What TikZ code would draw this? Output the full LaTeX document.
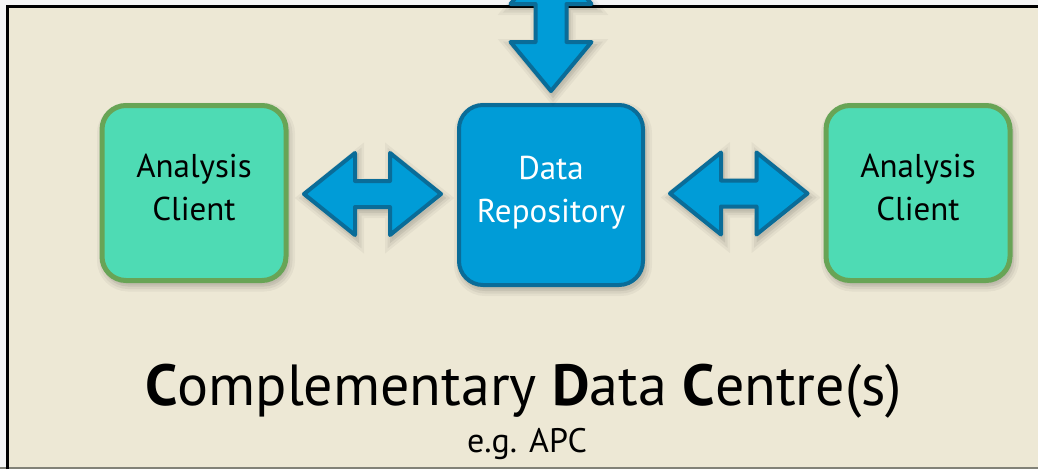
\documentclass[tikz,border=0pt]{standalone}
\usepackage{fontspec}
\setmainfont{PT Sans}
\usetikzlibrary{calc,shadows}

\definecolor{paper}{RGB}{237,232,213}
\definecolor{clientfill}{RGB}{78,219,180}
\definecolor{clientline}{RGB}{104,164,86}
\definecolor{repofill}{RGB}{0,156,215}
\definecolor{repoline}{RGB}{10,108,152}
\definecolor{edgegray}{RGB}{130,130,120}

\tikzset{
  % soft shadow built from a few stacked, widening strokes
  softshadow/.style={
    general shadow={shadow xshift=2pt, shadow yshift=-4pt, draw=black,
        fill=black, line width=14pt, draw opacity=0.04, fill opacity=0.04},
    general shadow={shadow xshift=2pt, shadow yshift=-4pt, draw=black,
        fill=none, line width=9pt, draw opacity=0.05},
    general shadow={shadow xshift=2pt, shadow yshift=-4pt, draw=black,
        fill=none, line width=4pt, draw opacity=0.07}},
  clientbox/.style={draw=clientline, line width=5pt, fill=clientfill,
      rounded corners=24pt, minimum width=184pt, minimum height=175pt,
      align=center, font=\fontsize{33}{43}\selectfont, text=black,
      text depth=12pt, softshadow},
  repobox/.style={draw=repoline, line width=4pt, fill=repofill,
      rounded corners=24pt, minimum width=184pt, minimum height=180pt,
      align=center, font=\fontsize{33}{43}\selectfont, text=white,
      text depth=12pt, softshadow},
  blockarrow/.style={draw=repoline, line width=4pt, fill=repofill,
      line join=round, softshadow},
}

% horizontal double block arrow between two tip points
\newcommand{\hblock}[2]{%
  \draw[blockarrow] let \p1=(#1), \p2=(#2) in
    (\x1,\y1) -- (\x1+51pt,\y1+41pt) -- (\x1+51pt,\y1+13pt)
    -- (\x2-51pt,\y2+13pt) -- (\x2-51pt,\y2+41pt) -- (\x2,\y2)
    -- (\x2-51pt,\y2-41pt) -- (\x2-51pt,\y2-13pt)
    -- (\x1+51pt,\y1-13pt) -- (\x1+51pt,\y1-41pt) -- cycle;}

\begin{document}
\begin{tikzpicture}[x=1pt,y=-1pt]
  \useasboundingbox (0,0) rectangle (1038,469);
  \begin{scope}
    \clip (0,0) rectangle (1038,469);
    % sheet and its frame
    \fill[white!96!black] (0,0) rectangle (1038,469);
    \fill[paper] (7,6) rectangle (1038,467);
    \fill[edgegray] (0,467) rectangle (1038,469);
    \draw[black, line width=3pt] (7,469) -- (7,6) -- (1040,6);

    % boxes
    \node[clientbox] (lc) at (194,193) {Analysis\\Client};
    \node[repobox] (repo) at (551,195) {Data\\Repository};
    \node[clientbox] (rc) at (918,193) {Analysis\\Client};

    % connectors
    \coordinate (la) at ($(lc.east)+(15.5,1)$);
    \coordinate (lb) at ($(repo.west)+(-16,-1)$);
    \hblock{la}{lb}
    \coordinate (ra) at ($(repo.east)+(25,-1.5)$);
    \coordinate (rb) at ($(rc.west)+(-16,0.5)$);
    \hblock{ra}{rb}

    % incoming arrow from above
    \coordinate (top) at (551,-45);
    \coordinate (tip) at ($(repo.north)+(0,-12)$);
    \draw[blockarrow] let \p1=(top), \p2=(tip) in
      (\x1,\y1) -- (\x1+40.5pt,\y1-49pt) -- (\x1+15.5pt,\y1-49pt)
      -- (\x2+15.5pt,\y2+49pt) -- (\x2+40.5pt,\y2+49pt) -- (\x2,\y2)
      -- (\x2-40.5pt,\y2+49pt) -- (\x2-15.5pt,\y2+49pt)
      -- (\x1-15.5pt,\y1-49pt) -- (\x1-40.5pt,\y1-49pt) -- cycle;

    % caption
    \node[anchor=base, font=\fontsize{58}{60}\selectfont] (title) at (523.5,405)
      {\textbf{C}omplementary \textbf{D}ata \textbf{C}entre(s)};
    \node[anchor=base, font=\fontsize{34}{40}\selectfont] (sub) at (527,452) {e.g. APC};
  \end{scope}
\end{tikzpicture}
\end{document}
